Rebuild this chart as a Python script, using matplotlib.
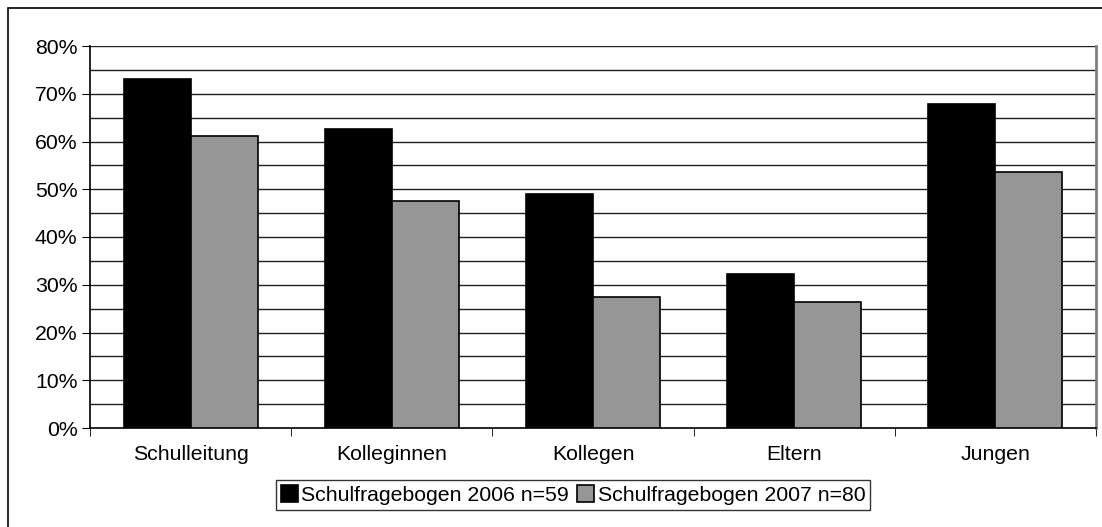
import matplotlib.pyplot as plt
import numpy as np
from matplotlib.patches import Rectangle

categories = ["Schulleitung", "Kolleginnen", "Kollegen", "Eltern", "Jungen"]
vals_2006 = [73.0, 62.7, 49.1, 32.3, 67.8]
vals_2007 = [61.2, 47.5, 27.4, 26.3, 53.7]
labels = ["Schulfragebogen 2006 n=59", "Schulfragebogen 2007 n=80"]

plt.rcParams['font.family'] = ['Liberation Sans', 'DejaVu Sans']
FS = 15.3

fig = plt.figure(figsize=(11.02, 5.27), dpi=100)
ax = fig.add_axes([90/1102, 1-428/527, (1096-90)/1102, (428-46)/527])

# outer frame of the chart (cut at right / bottom like in the original)
fig.patches.append(Rectangle((8/1102, -0.1), 1.2, 1-8/527+0.1, transform=fig.transFigure,
                             fill=False, edgecolor="black", linewidth=1.2))

x = np.arange(len(categories))
w = 1/3
ax.bar(x - w/2, vals_2006, w, color="black", edgecolor="black", linewidth=1.2,
       label=labels[0], zorder=3)
ax.bar(x + w/2, vals_2007, w, color="#969696", edgecolor="black", linewidth=1.2,
       label=labels[1], zorder=3)

ax.set_xlim(-0.5, len(categories) - 0.5)
ax.set_ylim(0, 80)
ax.set_yticks(np.arange(0, 81, 10))
ax.set_yticklabels([f"{v}%" for v in range(0, 81, 10)])
for y in np.arange(5, 81, 5):
    ax.axhline(y, color="#202020", linewidth=1.0, zorder=1)

ax.set_xticks(x)
ax.set_xticklabels(categories)
ax.tick_params(axis="x", length=0, pad=12, labelsize=FS)
ax.set_xticks(np.arange(-0.5, len(categories)), minor=True)
ax.tick_params(axis="x", which="minor", length=6, direction="out", color="black")
ax.tick_params(axis="y", length=6, direction="out", labelsize=FS, pad=3)

ax.spines["top"].set_visible(False)
ax.spines["right"].set_color("#808080")
ax.spines["right"].set_linewidth(2)
ax.spines["left"].set_linewidth(1.2)
ax.spines["bottom"].set_linewidth(1.2)

fig.legend(loc="center", bbox_to_anchor=(573/1102, 1-495/527), ncol=2,
           frameon=True, fancybox=False, edgecolor="black", fontsize=FS,
           handlelength=0.8, handleheight=0.8, handletextpad=0.15, columnspacing=0.4,
           borderpad=0.25)

fig.savefig("out.png", dpi=100)
